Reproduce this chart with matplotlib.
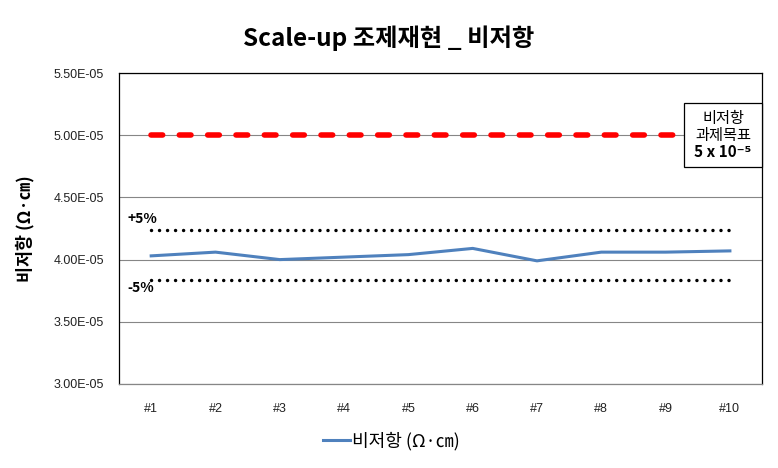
import matplotlib.pyplot as plt
from matplotlib.patches import Rectangle


# =====================================================
# Data
# =====================================================

samples = ["#1", "#2", "#3", "#4", "#5", "#6", "#7", "#8", "#9", "#10"]
resistivity = [4.03e-5, 4.06e-5, 4.00e-5, 4.02e-5, 4.04e-5,
               4.09e-5, 3.99e-5, 4.06e-5, 4.06e-5, 4.07e-5]
target = [5.0e-5] * 10
upper_5 = [4.24e-5] * 10
lower_5 = [3.84e-5] * 10
y_ticks = [3.0e-5, 3.5e-5, 4.0e-5, 4.5e-5, 5.0e-5, 5.5e-5]

plt.rcParams["font.family"] = ["Noto Sans CJK KR", "DejaVu Sans"]


# =====================================================
# Chart
# =====================================================

fig = plt.figure(figsize=(7.78, 4.68), dpi=100)
ax = fig.add_axes([0.153, 0.1795, 0.8265, 0.6645])

x = range(len(samples))

ax.plot(x, target, color="#ff0000", linewidth=4,
        linestyle=(0, (2.1, 3.0)), dash_capstyle="round", zorder=3)
ax.plot(x, upper_5, color="black", linewidth=2.5,
        linestyle=(0, (0.01, 2.3)), dash_capstyle="round", zorder=3)
ax.plot(x, lower_5, color="black", linewidth=2.5,
        linestyle=(0, (0.01, 2.3)), dash_capstyle="round", zorder=3)
line, = ax.plot(x, resistivity, color="#4f81bd", linewidth=2.2, zorder=4)

ax.set_xlim(-0.5, 9.5)
ax.set_ylim(3.0e-5, 5.5e-5)
ax.set_yticks(y_ticks)
ax.set_yticklabels([f"{v:.2E}" for v in y_ticks],
                   fontfamily="Liberation Sans", fontsize=9, color="#222222")
ax.set_xticks(list(x))
ax.set_xticklabels(samples, fontfamily="Liberation Sans",
                   fontsize=9, color="#222222")
ax.tick_params(axis="both", length=0)
ax.tick_params(axis="y", pad=11)
ax.tick_params(axis="x", pad=14)

ax.grid(axis="y", color="#868686", linewidth=0.8)
ax.set_axisbelow(True)
for side in ["left", "top", "right"]:
    ax.spines[side].set_color("black")
    ax.spines[side].set_linewidth(0.9)
ax.spines["bottom"].set_color("#868686")
ax.spines["bottom"].set_linewidth(0.9)

# +5% / -5% labels
ax.text(-0.37, 4.33e-5, "+5%", fontsize=10, fontweight="bold",
        va="center", ha="left")
ax.text(-0.37, 3.77e-5, "-5%", fontsize=10, fontweight="bold",
        va="center", ha="left")

# target box on the right
ax.add_patch(Rectangle((0.879, 0.698), 0.121, 0.2055, transform=ax.transAxes,
                       facecolor="white", edgecolor="black", linewidth=0.9,
                       zorder=5, clip_on=False))
ax.text(0.9395, 0.853, "비저항", transform=ax.transAxes, fontsize=11,
        ha="center", va="center", zorder=6)
ax.text(0.9395, 0.800, "과제목표", transform=ax.transAxes, fontsize=11,
        ha="center", va="center", zorder=6)
ax.text(0.9395, 0.746, "5 x 10⁻⁵", transform=ax.transAxes, fontsize=11,
        fontweight="bold", ha="center", va="center", zorder=6)

ax.set_ylabel("비저항 (Ω·㎝)", fontsize=12.5, fontweight="bold", labelpad=0)
ax.yaxis.set_label_coords(-0.131, 0.5)

fig.text(0.5, 0.919, "Scale-up 조제재현 _ 비저항", fontsize=17.5,
         fontweight="bold", ha="center", va="center")

fig.legend([line], ["비저항 (Ω·㎝)"], loc="center",
           bbox_to_anchor=(0.503, 0.058), frameon=False, fontsize=13,
           handlelength=1.5, handletextpad=0.1)

plt.savefig("out.png", dpi=100)
plt.close()
